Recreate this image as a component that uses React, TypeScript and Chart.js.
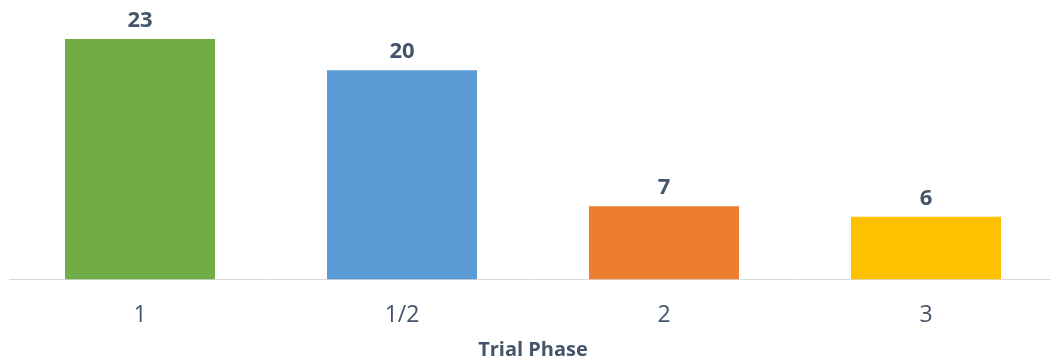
import React, { useEffect, useRef } from "react";
import { Chart, registerables } from "chart.js";

Chart.register(...registerables);

const categories = ["1", "1/2", "2", "3"];
const counts = [23, 20, 7, 6];
const barColors = ["#70AD47", "#5B9BD5", "#ED7D31", "#FFC000"];
const axisTitle = "Trial Phase";
const textColor = "#44546A";
const fontFamily = "'Open Sans', sans-serif";

const valueLabels = {
  id: "valueLabels",
  afterDatasetsDraw(chart: any) {
    const ctx = chart.ctx;
    const meta = chart.getDatasetMeta(0);
    ctx.save();
    ctx.font = `bold 22px ${fontFamily}`;
    ctx.fillStyle = textColor;
    ctx.textAlign = "center";
    ctx.textBaseline = "alphabetic";
    meta.data.forEach((bar: any, i: number) => {
      ctx.fillText(String(chart.data.datasets[0].data[i]), bar.x, bar.y - 12);
    });
    ctx.restore();
  },
};

export default function App() {
  const ref = useRef<HTMLCanvasElement>(null);
  useEffect(() => {
    if (!ref.current) return;
    const chart = new Chart(ref.current, {
      type: "bar",
      data: {
        labels: categories,
        datasets: [
          {
            data: counts,
            backgroundColor: barColors,
            borderWidth: 0,
            categoryPercentage: 1,
            barPercentage: 0.5725,
          },
        ],
      },
      options: {
        responsive: false,
        animation: false,
        layout: { padding: { left: 9, right: 9, top: 18, bottom: 1 } },
        plugins: { legend: { display: false }, tooltip: { enabled: false } },
        scales: {
          y: { display: false, min: 0, max: 25 },
          x: {
            grid: { display: false, drawTicks: false },
            border: { display: true, color: "#D9D9D9", width: 1 },
            ticks: {
              color: textColor,
              font: { family: fontFamily, size: 23 },
              padding: 22,
            },
            title: {
              display: true,
              text: axisTitle,
              color: textColor,
              font: { family: fontFamily, size: 20, weight: "bold" },
              padding: { top: -13, bottom: 0 },
            },
          },
        },
      },
      plugins: [valueLabels],
    });
    return () => chart.destroy();
  }, []);
  return (
    <div style={{ position: "absolute", left: 0, top: 0, width: 1051, height: 363, overflow: "hidden", background: "#fff" }}>
      <canvas ref={ref} width={1066} height={363} style={{ width: 1066, height: 363, display: "block" }} />
    </div>
  );
}
